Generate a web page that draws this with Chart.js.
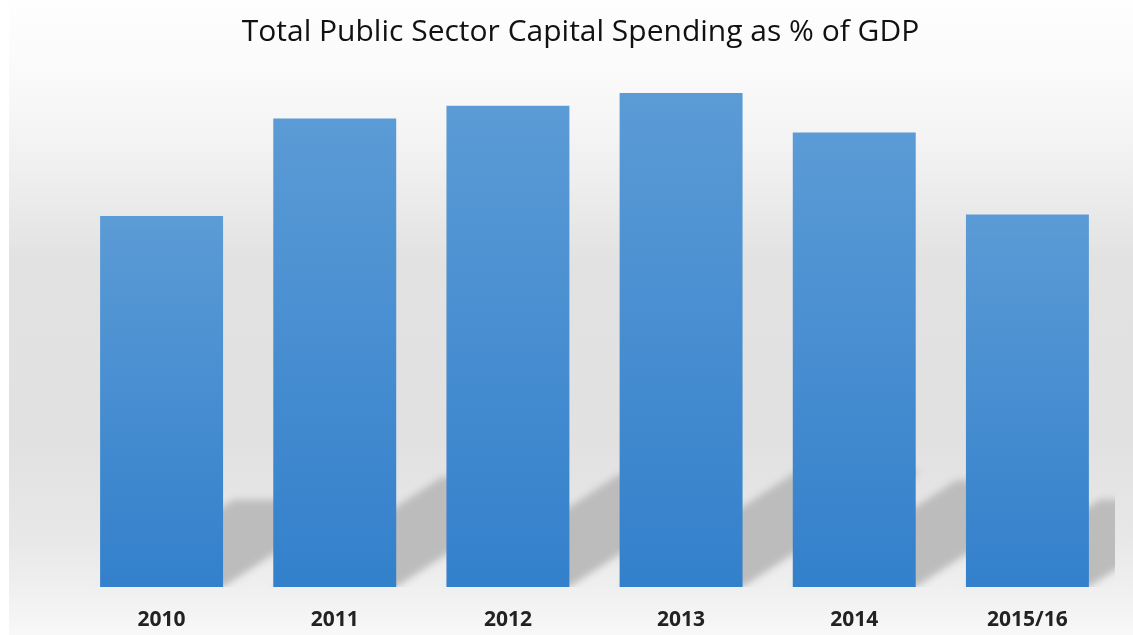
<!DOCTYPE html>
<html>
<head>
<meta charset="utf-8">
<script src="https://cdn.jsdelivr.net/npm/chart.js@4"></script>
<style>
  html, body { margin: 0; padding: 0; background: #ffffff; }
  #wrap { width: 1133px; height: 635px; }
</style>
</head>
<body>
<div id="wrap"><canvas id="c" width="1133" height="635"></canvas></div>
<script>
const chartTitle = 'Total Public Sector Capital Spending as % of GDP';
const categories = ['2010', '2011', '2012', '2013', '2014', '2015/16'];
const spendingPct = [2.63, 3.32, 3.41, 3.5, 3.22, 2.64];
const yMin = 0;
const yMax = 3.6;

const bgPlugin = {
  id: 'bgPlugin',
  beforeDraw(chart) {
    const ctx = chart.ctx;
    const W = chart.width, H = chart.height;
    ctx.save();
    ctx.fillStyle = '#ffffff';
    ctx.fillRect(0, 0, W, H);
    const g = ctx.createLinearGradient(0, 0, 0, H);
    g.addColorStop(0, '#fefefe');
    g.addColorStop(0.094, '#fbfbfb');
    g.addColorStop(0.2, '#f5f5f5');
    g.addColorStop(0.283, '#eeeeee');
    g.addColorStop(0.41, '#e2e2e2');
    g.addColorStop(0.69, '#e1e1e1');
    g.addColorStop(0.85, '#e8e8e8');
    g.addColorStop(0.93, '#f0f0f0');
    g.addColorStop(1, '#f8f8f8');
    ctx.fillStyle = g;
    ctx.fillRect(9, 0, W - 9, H);
    ctx.restore();
  }
};

const shadowPlugin = {
  id: 'shadowPlugin',
  beforeDatasetsDraw(chart) {
    const ctx = chart.ctx;
    const area = chart.chartArea;
    const meta = chart.getDatasetMeta(0);
    const k = 0.36, s = 0.235;
    ctx.save();
    ctx.beginPath();
    ctx.rect(area.left, 0, area.right - area.left + 1, area.bottom);
    ctx.clip();
    ctx.filter = 'blur(3.5px)';
    ctx.fillStyle = '#bcbcbc';
    meta.data.forEach(bar => {
      const p = bar.getProps(['x', 'y', 'base', 'width'], true);
      const xl = p.x - p.width / 2, xr = p.x + p.width / 2;
      const h = p.base - p.y;
      ctx.beginPath();
      ctx.moveTo(xl, p.base);
      ctx.lineTo(xr, p.base);
      ctx.lineTo(xr + k * h, p.base - s * h);
      ctx.lineTo(xl + k * h, p.base - s * h);
      ctx.closePath();
      ctx.fill();
    });
    ctx.restore();
  }
};

function barFill(context) {
  const chart = context.chart;
  const area = chart.chartArea;
  if (!area || context.type !== 'data') return '#4a8fd3';
  const yScale = chart.scales.y;
  const top = yScale.getPixelForValue(context.raw);
  const base = yScale.getPixelForValue(0);
  const g = chart.ctx.createLinearGradient(0, top, 0, base);
  g.addColorStop(0, '#5b9bd6');
  g.addColorStop(1, '#3380cb');
  return g;
}

new Chart(document.getElementById('c'), {
  type: 'bar',
  data: {
    labels: categories,
    datasets: [{
      data: spendingPct,
      backgroundColor: barFill,
      borderWidth: 0,
      categoryPercentage: 1.0,
      barPercentage: 0.71
    }]
  },
  options: {
    responsive: false,
    animation: false,
    devicePixelRatio: 1,
    layout: { padding: { left: 47, right: 19, top: 0, bottom: 0 } },
    plugins: {
      legend: { display: false },
      tooltip: { enabled: false },
      title: {
        display: true,
        text: chartTitle,
        color: '#111111',
        font: { family: 'Open Sans', size: 30, weight: '400' },
        padding: { top: 14, bottom: 29 }
      }
    },
    scales: {
      x: {
        grid: { display: false, drawTicks: false },
        border: { display: false },
        ticks: {
          color: '#222222',
          font: { family: 'Open Sans', size: 21, weight: 'bold' },
          padding: 20
        },
        afterFit(scale) { scale.height = 48; }
      },
      y: {
        display: true,
        min: yMin,
        max: yMax,
        grid: { display: false, drawTicks: false },
        border: { display: false },
        ticks: { display: false },
        afterFit(scale) { scale.width = 28; }
      }
    }
  },
  plugins: [bgPlugin, shadowPlugin]
});
</script>
</body>
</html>
